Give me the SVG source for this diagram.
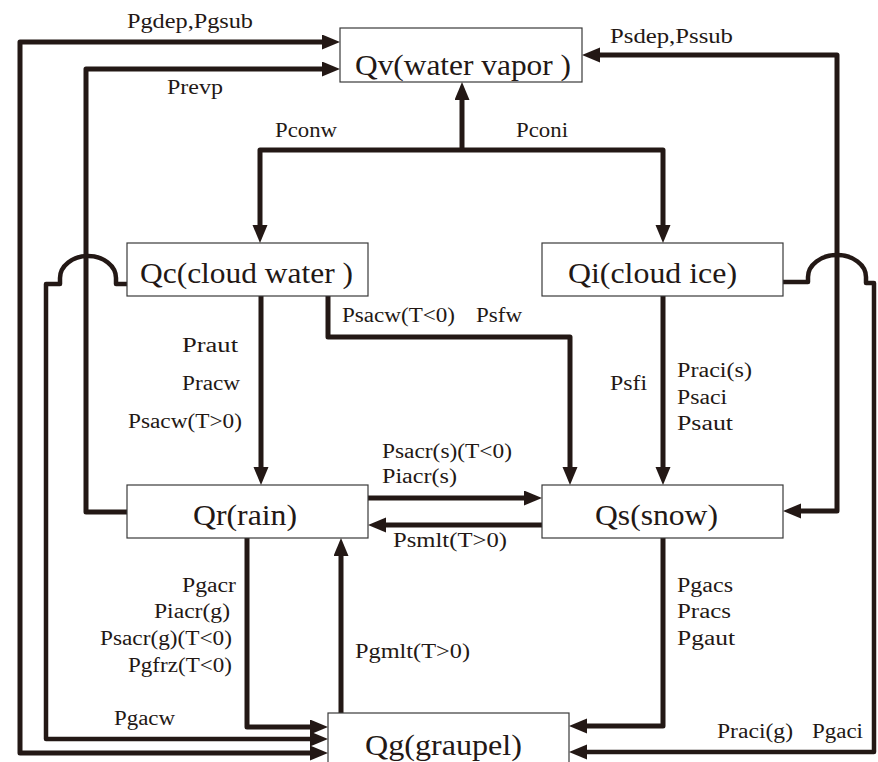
<svg xmlns="http://www.w3.org/2000/svg" width="878" height="762" viewBox="0 0 878 762">
<style>
.box{fill:#fff;stroke:#3a3a3a;stroke-width:1.2}
.nt{font-family:'Liberation Serif','Times New Roman',serif;font-size:30px;fill:#231815}
.lb{font-family:'Liberation Serif','Times New Roman',serif;font-size:20px;fill:#231815}
.c{fill:none;stroke:#231815;stroke-width:5;stroke-linejoin:round}
.ar{fill:#231815}
</style>
<defs>
<marker id="ah" markerUnits="userSpaceOnUse" markerWidth="18" markerHeight="16" refX="8" refY="7.5" orient="auto-start-reverse">
<path class="ar" d="M0,0 L18,7.5 L0,15 z"/>
</marker>
</defs>
<rect width="878" height="762" fill="#fff"/>
<g id="connectors">
<path class="c" d="M318,753 H20 V42 H330" marker-start="url(#ah)" marker-end="url(#ah)"/>
<path class="c" d="M127,512 H86 V69 H330" marker-end="url(#ah)"/>
<path class="c" style="stroke-width:4.5" d="M127,284 H116 V278 A28,22 0 0 0 60,278 V284 H46 V739 H318" marker-end="url(#ah)"/>
<path class="c" style="stroke-width:4.5" d="M783,282 H808 V277 A29,22 0 0 1 866,277 V283 H874 V752 H579" marker-end="url(#ah)"/>
<path class="c" d="M592,55 H837 V511 H793" marker-start="url(#ah)" marker-end="url(#ah)"/>
<path class="c" d="M462,150 V92" marker-end="url(#ah)"/>
<path class="c" d="M260,233 V150 H663 V233" marker-start="url(#ah)" marker-end="url(#ah)"/>
<path class="c" d="M261,296 V475" marker-end="url(#ah)"/>
<path class="c" d="M328,296 V337 H570 V475" marker-end="url(#ah)"/>
<path class="c" d="M663,296 V475" marker-end="url(#ah)"/>
<path class="c" d="M368,498 H532" marker-end="url(#ah)"/>
<path class="c" d="M542,525 H378" marker-end="url(#ah)"/>
<path class="c" d="M247,538 V727 H318" marker-end="url(#ah)"/>
<path class="c" d="M341,713 V548" marker-end="url(#ah)"/>
<path class="c" d="M663,538 V726 H579" marker-end="url(#ah)"/>
</g>
<g id="labels">
<text class="lb" x="127" y="28" textLength="126" lengthAdjust="spacingAndGlyphs">Pgdep,Pgsub</text>
<text class="lb" x="167" y="94" textLength="56" lengthAdjust="spacingAndGlyphs">Prevp</text>
<text class="lb" x="275" y="137" textLength="62" lengthAdjust="spacingAndGlyphs">Pconw</text>
<text class="lb" x="610" y="43" textLength="123" lengthAdjust="spacingAndGlyphs">Psdep,Pssub</text>
<text class="lb" x="516" y="137" textLength="52" lengthAdjust="spacingAndGlyphs">Pconi</text>
<text class="lb" x="342" y="322" textLength="113" lengthAdjust="spacingAndGlyphs">Psacw(T&lt;0)</text>
<text class="lb" x="476" y="322" textLength="46" lengthAdjust="spacingAndGlyphs">Psfw</text>
<text class="lb" x="182" y="352" textLength="56" lengthAdjust="spacingAndGlyphs">Praut</text>
<text class="lb" x="182" y="390" textLength="58" lengthAdjust="spacingAndGlyphs">Pracw</text>
<text class="lb" x="128" y="428" textLength="114" lengthAdjust="spacingAndGlyphs">Psacw(T&gt;0)</text>
<text class="lb" x="382" y="458" textLength="130" lengthAdjust="spacingAndGlyphs">Psacr(s)(T&lt;0)</text>
<text class="lb" x="382" y="483" textLength="75" lengthAdjust="spacingAndGlyphs">Piacr(s)</text>
<text class="lb" x="393" y="547" textLength="114" lengthAdjust="spacingAndGlyphs">Psmlt(T&gt;0)</text>
<text class="lb" x="610" y="390" textLength="37" lengthAdjust="spacingAndGlyphs">Psfi</text>
<text class="lb" x="677" y="377" textLength="75" lengthAdjust="spacingAndGlyphs">Praci(s)</text>
<text class="lb" x="677" y="404" textLength="50" lengthAdjust="spacingAndGlyphs">Psaci</text>
<text class="lb" x="677" y="430" textLength="56" lengthAdjust="spacingAndGlyphs">Psaut</text>
<text class="lb" x="182" y="592" textLength="54" lengthAdjust="spacingAndGlyphs">Pgacr</text>
<text class="lb" x="154" y="618" textLength="76" lengthAdjust="spacingAndGlyphs">Piacr(g)</text>
<text class="lb" x="100" y="645" textLength="132" lengthAdjust="spacingAndGlyphs">Psacr(g)(T&lt;0)</text>
<text class="lb" x="128" y="672" textLength="104" lengthAdjust="spacingAndGlyphs">Pgfrz(T&lt;0)</text>
<text class="lb" x="355" y="658" textLength="115" lengthAdjust="spacingAndGlyphs">Pgmlt(T&gt;0)</text>
<text class="lb" x="114" y="725" textLength="61" lengthAdjust="spacingAndGlyphs">Pgacw</text>
<text class="lb" x="677" y="592" textLength="56" lengthAdjust="spacingAndGlyphs">Pgacs</text>
<text class="lb" x="677" y="618" textLength="54" lengthAdjust="spacingAndGlyphs">Pracs</text>
<text class="lb" x="677" y="645" textLength="58" lengthAdjust="spacingAndGlyphs">Pgaut</text>
<text class="lb" x="717" y="738" textLength="76" lengthAdjust="spacingAndGlyphs">Praci(g)</text>
<text class="lb" x="812" y="738" textLength="51" lengthAdjust="spacingAndGlyphs">Pgaci</text>
</g>
<g id="node-qv">
<rect class="box" x="340" y="28" width="242" height="54"/>
<text class="nt" x="355" y="75" textLength="216" lengthAdjust="spacingAndGlyphs">Qv(water vapor )</text>
</g>
<g id="node-qc">
<rect class="box" x="127" y="243" width="241" height="53"/>
<text class="nt" x="140" y="283" textLength="213" lengthAdjust="spacingAndGlyphs">Qc(cloud water )</text>
</g>
<g id="node-qi">
<rect class="box" x="542" y="243" width="241" height="53"/>
<text class="nt" x="568" y="283" textLength="169" lengthAdjust="spacingAndGlyphs">Qi(cloud ice)</text>
</g>
<g id="node-qr">
<rect class="box" x="127" y="485" width="241" height="53"/>
<text class="nt" x="193" y="525" textLength="104" lengthAdjust="spacingAndGlyphs">Qr(rain)</text>
</g>
<g id="node-qs">
<rect class="box" x="542" y="485" width="241" height="53"/>
<text class="nt" x="595" y="525" textLength="123" lengthAdjust="spacingAndGlyphs">Qs(snow)</text>
</g>
<g id="node-qg">
<rect class="box" x="328" y="713" width="241" height="60"/>
<text class="nt" x="365" y="755" textLength="157" lengthAdjust="spacingAndGlyphs">Qg(graupel)</text>
</g>
</svg>
